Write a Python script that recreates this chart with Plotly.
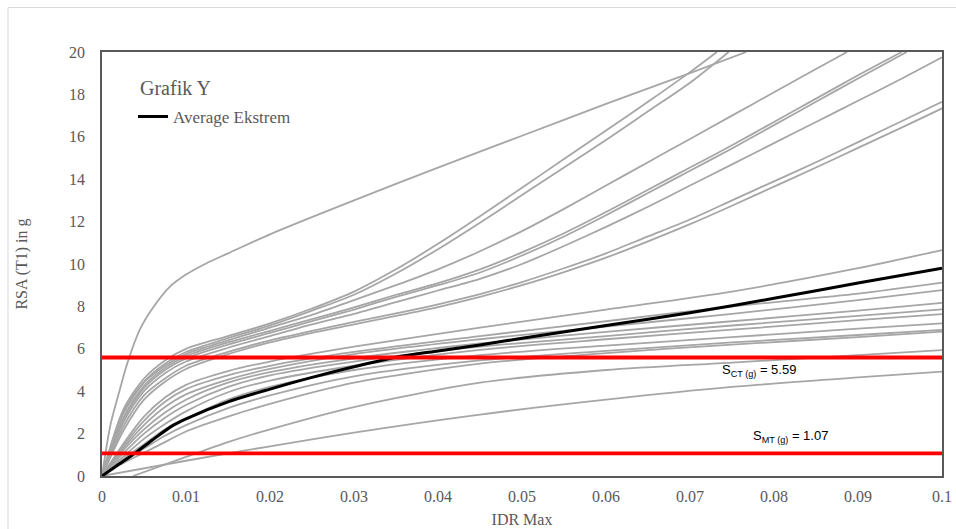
import plotly.graph_objects as go

# ---- IDR (x) / RSA (y) curves ----
# steepest record
idr_a = [0, 0.001, 0.002, 0.003, 0.0045, 0.006, 0.008, 0.01, 0.0125, 0.015, 0.02, 0.03, 0.04, 0.05, 0.06, 0.07, 0.0767]
rsa_a = [0, 2.4, 3.9, 5.3, 6.9, 7.9, 8.9, 9.5, 10.05, 10.5, 11.4, 13.0, 14.55, 16.05, 17.55, 19.0, 20.0]

# upper family, sampled on a common IDR grid
idr_up = [0, 0.0025, 0.005, 0.0075, 0.01, 0.015, 0.02, 0.025, 0.03, 0.035, 0.04, 0.045,
          0.05, 0.055, 0.06, 0.065, 0.07, 0.075, 0.08, 0.085, 0.09, 0.095, 0.1]
rsa_b1 = [0, 3.1, 4.6, 5.45, 6.0, 6.6, 7.2, 7.9, 8.7, 9.75, 10.95, 12.25,
          13.6, 14.95, 16.3, 17.65, 19.05]
rsa_b2 = [0, 3.0, 4.45, 5.3, 5.85, 6.5, 7.1, 7.8, 8.55, 9.55, 10.7, 11.95,
          13.25, 14.55, 15.85, 17.2, 18.55]
rsa_c = [0, 2.9, 4.4, 5.2, 5.75, 6.4, 7.0, 7.6, 8.3, 9.0, 9.75, 10.6,
         11.55, 12.6, 13.7, 14.8, 15.9, 17.0, 18.1, 19.2]
rsa_d1 = [0, 2.7, 4.25, 5.1, 5.65, 6.3, 6.85, 7.4, 7.95, 8.55, 9.1, 9.75,
          10.55, 11.45, 12.45, 13.5, 14.55, 15.6, 16.7, 17.8, 18.9]
rsa_d2 = [0, 2.6, 4.15, 5.0, 5.55, 6.2, 6.75, 7.3, 7.85, 8.45, 9.0, 9.6,
          10.4, 11.3, 12.3, 13.35, 14.4, 15.45, 16.55, 17.65, 18.75]
rsa_e = [0, 2.5, 4.0, 4.85, 5.4, 6.05, 6.6, 7.15, 7.65, 8.2, 8.75, 9.3,
         10.0, 10.85, 11.75, 12.7, 13.7, 14.7, 15.7, 16.7, 17.7, 18.7, 19.75]
rsa_f1 = [0, 2.3, 3.8, 4.6, 5.2, 5.85, 6.4, 6.85, 7.27, 7.67, 8.1, 8.58,
          9.15, 9.8, 10.5, 11.3, 12.1, 13.0, 13.9, 14.8, 15.75, 16.7, 17.65]
rsa_f2 = [0, 2.1, 3.6, 4.45, 5.05, 5.75, 6.3, 6.75, 7.15, 7.55, 7.97, 8.45,
          9.0, 9.62, 10.3, 11.07, 11.88, 12.75, 13.65, 14.55, 15.48, 16.4, 17.34]

# where the upper records leave the top of the chart (RSA = 20)
idr_top_b1, idr_top_b2, idr_top_c = 0.0732, 0.0746, 0.0887
idr_top_d1, idr_top_d2 = 0.0952, 0.0958
RSA_MAX = 20.0

# lower family
idr_low = [0, 0.0025, 0.005, 0.0075, 0.01, 0.015, 0.02, 0.03, 0.045, 0.06, 0.075, 0.09, 0.1]
rsa_l1 = [0, 1.5, 2.8, 3.7, 4.3, 4.95, 5.4, 6.1, 7.0, 7.85, 8.7, 9.8, 10.66]
rsa_l2 = [0, 1.4, 2.6, 3.5, 4.1, 4.75, 5.2, 5.85, 6.6, 7.3, 8.0, 8.6, 9.12]
rsa_l3 = [0, 1.3, 2.4, 3.25, 3.85, 4.55, 5.05, 5.75, 6.45, 7.05, 7.65, 8.3, 8.77]
rsa_l4 = [0, 1.2, 2.2, 3.0, 3.6, 4.4, 4.9, 5.55, 6.25, 6.8, 7.3, 7.8, 8.17]
rsa_l5 = [0, 1.05, 2.0, 2.75, 3.35, 4.2, 4.75, 5.4, 6.1, 6.6, 7.1, 7.55, 7.86]
rsa_l6 = [0, 0.9, 1.75, 2.45, 3.05, 3.95, 4.5, 5.2, 5.95, 6.45, 6.9, 7.35, 7.64]
rsa_l7 = [0, 0.8, 1.5, 2.2, 2.7, 3.6, 4.2, 5.0, 5.7, 6.15, 6.55, 6.95, 7.20]
rsa_l8 = [0, 0.7, 1.3, 1.9, 2.4, 3.2, 3.8, 4.7, 5.45, 5.9, 6.3, 6.65, 6.89]
rsa_l9 = [0, 0.6, 1.1, 1.6, 2.1, 2.8, 3.4, 4.4, 5.3, 5.8, 6.2, 6.55, 6.81]

idr_l10 = [0.0037, 0.01, 0.015, 0.02, 0.03, 0.045, 0.06, 0.075, 0.09, 0.1]
rsa_l10 = [0, 0.9, 1.6, 2.2, 3.25, 4.4, 5.0, 5.35, 5.7, 5.94]

idr_l11 = [0, 0.01, 0.02, 0.03, 0.045, 0.06, 0.075, 0.09, 0.1]
rsa_l11 = [0, 0.72, 1.4, 2.05, 2.9, 3.6, 4.2, 4.65, 4.92]

# average of the extreme records
idr_avg = [0, 0.002, 0.004, 0.006, 0.0085, 0.01, 0.015, 0.02, 0.025, 0.03, 0.035, 0.04, 0.045, 0.05, 0.06, 0.07, 0.08, 0.09, 0.1]
rsa_avg = [0, 0.55, 1.1, 1.7, 2.4, 2.7, 3.5, 4.1, 4.65, 5.15, 5.6, 5.9, 6.18, 6.5, 7.1, 7.7, 8.38, 9.1, 9.8]

# limit-state spectral accelerations
S_CT = 5.59
S_MT = 1.07

x_ticks = [0, 0.01, 0.02, 0.03, 0.04, 0.05, 0.06, 0.07, 0.08, 0.09, 0.1]
x_tick_text = ["0", "0.01", "0.02", "0.03", "0.04", "0.05", "0.06", "0.07", "0.08", "0.09", "0.1"]
y_ticks = list(range(0, 21, 2))

GRAY = "#a6a6a6"
TXT = "#595959"
SERIF = "Liberation Serif, Times New Roman, serif"


def clipped(ys, x_top):
    """Upper record on the common grid, ending where it reaches RSA_MAX."""
    n = len(ys)
    return idr_up[:n] + [x_top], ys + [RSA_MAX]


gray_curves = [
    (idr_a, rsa_a),
    clipped(rsa_b1, idr_top_b1),
    clipped(rsa_b2, idr_top_b2),
    clipped(rsa_c, idr_top_c),
    clipped(rsa_d1, idr_top_d1),
    clipped(rsa_d2, idr_top_d2),
    (idr_up, rsa_e), (idr_up, rsa_f1), (idr_up, rsa_f2),
    (idr_low, rsa_l1), (idr_low, rsa_l2), (idr_low, rsa_l3),
    (idr_low, rsa_l4), (idr_low, rsa_l5), (idr_low, rsa_l6),
    (idr_low, rsa_l7), (idr_low, rsa_l8), (idr_low, rsa_l9),
    (idr_l10, rsa_l10), (idr_l11, rsa_l11),
]

fig = go.Figure()

for xs, ys in gray_curves:
    fig.add_trace(go.Scatter(
        x=xs, y=ys, mode="lines", showlegend=False,
        line=dict(color=GRAY, width=1.8, shape="spline", smoothing=0.8),
        hoverinfo="skip",
    ))

fig.add_trace(go.Scatter(
    x=idr_avg, y=rsa_avg, mode="lines", name="Average Ekstrem",
    line=dict(color="black", width=3, shape="spline", smoothing=0.8),
))

for level in (S_CT, S_MT):
    fig.add_trace(go.Scatter(
        x=[0, 0.1], y=[level, level], mode="lines", showlegend=False,
        line=dict(color="#ff0000", width=3.8),
    ))

fig.add_annotation(x=0.0782, y=S_CT, yshift=-13, showarrow=False,
                   text=f"S<sub>CT (g)</sub> = {S_CT}",
                   font=dict(family="Liberation Sans, Arial", size=13, color="black"))
fig.add_annotation(x=0.0820, y=S_MT, yshift=17, showarrow=False,
                   text=f"S<sub>MT (g)</sub> = {S_MT}",
                   font=dict(family="Liberation Sans, Arial", size=13, color="black"))

# outer chart frame
fig.add_shape(type="rect", xref="paper", yref="paper",
              x0=-94 / 840, x1=1 + 30 / 840, y0=-70 / 424.5, y1=1 + 44.5 / 424.5,
              line=dict(color="#d9d9d9", width=1), layer="below")

fig.update_layout(
    width=956, height=529,
    margin=dict(l=102, r=14, t=52, b=53),
    paper_bgcolor="white", plot_bgcolor="white",
    title=dict(text="Grafik Y", x=(140 - 102) / 840, xref="paper", xanchor="left",
               y=1 - (88 - 52) / 424.5, yref="paper", yanchor="middle",
               font=dict(family=SERIF, size=20, color=TXT)),
    legend=dict(x=(133 - 102) / 840, y=1 - (117 - 52) / 424.5, xanchor="left", yanchor="middle",
                bgcolor="rgba(0,0,0,0)", font=dict(family=SERIF, size=17, color=TXT),
                itemwidth=30, tracegroupgap=0),
    xaxis=dict(range=[0, 0.1], tickvals=x_ticks, ticktext=x_tick_text, automargin=False,
               showgrid=False, zeroline=False, showline=True, mirror=True,
               linecolor=TXT, linewidth=1.5, ticks="", ticklabelstandoff=5,
               tickfont=dict(family=SERIF, size=16, color=TXT),
               title=dict(text="IDR Max", standoff=10,
                          font=dict(family=SERIF, size=16, color=TXT))),
    yaxis=dict(range=[0, 20], tickvals=y_ticks, automargin=False,
               showgrid=False, zeroline=False, showline=True, mirror=True,
               linecolor=TXT, linewidth=1.5, ticks="", ticklabelstandoff=12,
               tickfont=dict(family=SERIF, size=16, color=TXT),
               title=dict(text="RSA (T1) in g", standoff=37,
                          font=dict(family=SERIF, size=16, color=TXT))),
)

fig.write_html("out.html")
